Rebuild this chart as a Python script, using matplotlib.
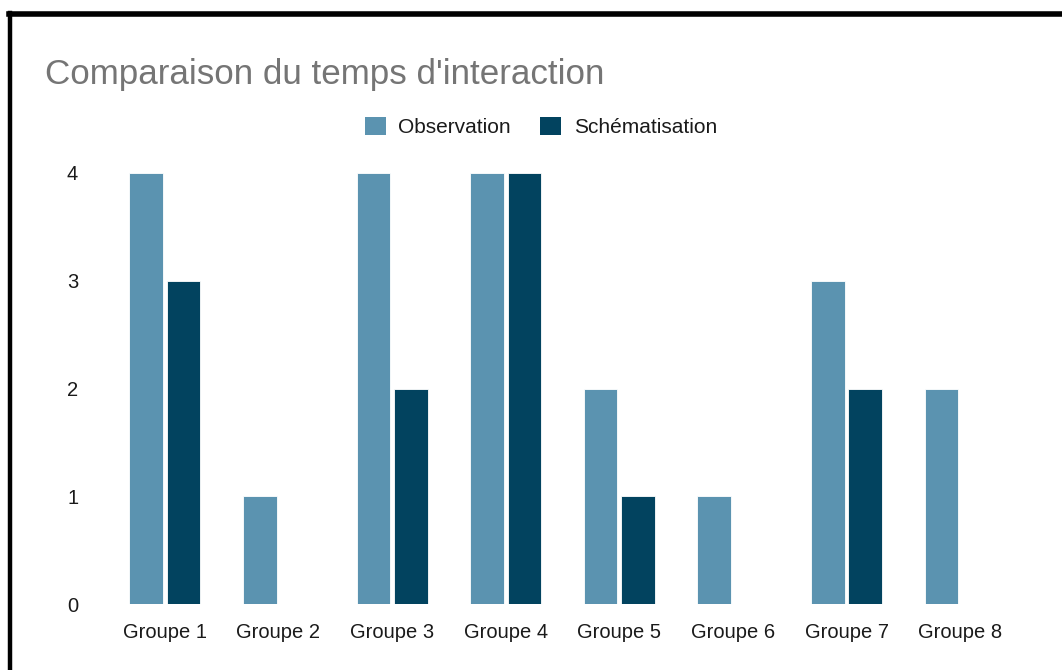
import numpy as np
import matplotlib as mpl
mpl.use('Agg')
import matplotlib.pyplot as plt
from matplotlib.patches import Patch

groupes = ['Groupe 1', 'Groupe 2', 'Groupe 3', 'Groupe 4',
           'Groupe 5', 'Groupe 6', 'Groupe 7', 'Groupe 8']
observation = [4, 1, 4, 4, 2, 1, 3, 2]
schematisation = [3, 0, 2, 4, 1, 0, 2, 0]

c_obs = '#5b93b0'
c_sch = '#02435f'

plt.rcParams['font.family'] = ['Liberation Sans', 'DejaVu Sans']

fig = plt.figure(figsize=(10.62, 6.70), dpi=100)
W, H = 1062.0, 670.0
# axes placed in pixels: x from 108 to 1017, y from 173 (value 4) to 604 (value 0)
ax = fig.add_axes([108 / W, (H - 604) / H, (1017 - 108) / W, (604 - 173) / H])

x = np.arange(len(groupes))
bw = 0.295
ax.bar(x - bw / 2 - 0.017, observation, bw, color=c_obs, edgecolor='white', linewidth=0.6)
ax.bar(x + bw / 2 + 0.017, schematisation, bw, color=c_sch, edgecolor='white', linewidth=0.6)

ax.set_xlim(-0.5, len(groupes) - 0.5)
ax.set_ylim(0, 4)
ax.set_yticks([0, 1, 2, 3, 4])
ax.set_xticks(x)
ax.set_xticklabels(groupes)
ax.tick_params(axis='both', length=0, labelsize=14.5, colors='#1a1a1a')
ax.tick_params(axis='x', pad=14)
ax.tick_params(axis='y', pad=21.5)
for s in ax.spines.values():
    s.set_visible(False)

# titre
fig.text(45 / W, 1 - 84 / H, "Comparaison du temps d'interaction",
         fontsize=25.2, color='#757575', ha='left', va='baseline')

# legende
handles = [Patch(facecolor=c_obs, edgecolor='none', label='Observation'),
           Patch(facecolor=c_sch, edgecolor='none', label='Schématisation')]
fig.legend(handles=handles, loc='center', bbox_to_anchor=(541 / W, 1 - 127 / H),
           ncol=2, frameon=False, fontsize=15, handlelength=1.0, handleheight=1.0,
           handletextpad=0.6, columnspacing=1.4, labelcolor='#1a1a1a')

# cadre noir (gauche et haut)
fig.add_artist(plt.Line2D([10 / W, 10 / W], [0, 1 - 13 / H], color='black',
                          linewidth=3.2, transform=fig.transFigure))
fig.add_artist(plt.Line2D([8.5 / W, 1], [1 - 13.5 / H, 1 - 13.5 / H], color='black',
                          linewidth=4, transform=fig.transFigure))

plt.savefig('out.png', dpi=100)
plt.close('all')
